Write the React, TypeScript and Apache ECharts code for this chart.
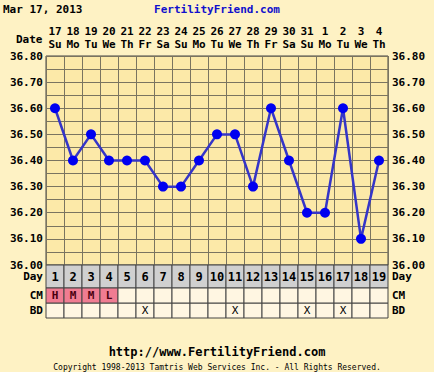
import React, { useEffect, useRef } from 'react';
import * as echarts from 'echarts';

const dates = ['17', '18', '19', '20', '21', '22', '23', '24', '25', '26', '27', '28', '29', '30', '31', '1', '2', '3', '4'];
const weekdays = ['Su', 'Mo', 'Tu', 'We', 'Th', 'Fr', 'Sa', 'Su', 'Mo', 'Tu', 'We', 'Th', 'Fr', 'Sa', 'Su', 'Mo', 'Tu', 'We', 'Th'];
const cycleDays = ['1', '2', '3', '4', '5', '6', '7', '8', '9', '10', '11', '12', '13', '14', '15', '16', '17', '18', '19'];
const temps = [36.6, 36.4, 36.5, 36.4, 36.4, 36.4, 36.3, 36.3, 36.4, 36.5, 36.5, 36.3, 36.6, 36.4, 36.2, 36.2, 36.6, 36.1, 36.4];
const cervicalMucus = ['H', 'M', 'M', 'L', '', '', '', '', '', '', '', '', '', '', '', '', '', '', ''];
const intercourse = ['', '', '', '', '', 'X', '', '', '', '', 'X', '', '', '', 'X', '', 'X', '', ''];
const tableRows = ['BD', 'CM'];
const tempMin = 36.0;
const tempMax = 36.8;
const tempStep = 0.05;

const FONT = 'DejaVu Sans Mono';
const BG = '#FEF2C4';
const PLOT_BG = '#FCE9A8';
const CELL_BG = '#FFF6E2';
const GRID_LINE = '#7A7460';
const BORDER = '#444444';

const labelStyle = { fontFamily: FONT, fontWeight: 'bold' as const, fontSize: 11, color: '#000' };

export default function App() {
  const ref = useRef<HTMLDivElement>(null);
  useEffect(() => {
    if (!ref.current) return;
    const chart = echarts.init(ref.current, undefined, { renderer: 'svg' });
    const tempLabel = (v: number) => {
      const r = Math.round(v * 100);
      return r % 10 === 0 ? (r / 100).toFixed(2) : '';
    };
    const dayCells = cycleDays.map((d, i) => [i, 0, d]);
    const tableCells: any[] = [];
    intercourse.forEach((v, i) => tableCells.push([i, 0, v]));
    cervicalMucus.forEach((v, i) => tableCells.push([i, 1, v]));

    const option: any = {
      animation: false,
      backgroundColor: BG,
      textStyle: { fontFamily: FONT },
      title: [
        { text: 'Mar 17, 2013', left: 3, top: 4, padding: 0, textStyle: { ...labelStyle, fontSize: 11 } },
        { text: 'FertilityFriend.com', left: 'center', top: 4, padding: 0, textStyle: { ...labelStyle, color: '#1010CC', fontSize: 11 } },
        { text: 'http://www.FertilityFriend.com', left: 'center', top: 346, padding: 0, textStyle: { ...labelStyle, fontSize: 12 } },
        { text: 'Copyright 1998-2013 Tamtris Web Services Inc. - All Rights Reserved.', left: 'center', top: 363, padding: 0, textStyle: { ...labelStyle, fontSize: 8, fontWeight: 'normal', lineHeight: 9 } },
      ],
      graphic: [
        { type: 'text', left: 16, top: 34, style: { text: 'Date', font: `bold 11px "${FONT}"`, fill: '#000' } },
      ],
      grid: [
        { left: 46, top: 56, width: 342, height: 209, show: true, backgroundColor: PLOT_BG, borderColor: BORDER, borderWidth: 1 },
        { left: 46, top: 265, width: 342, height: 23, show: false },
        { left: 46, top: 288, width: 342, height: 30, show: false },
      ],
      xAxis: [
        {
          gridIndex: 0, type: 'category', data: dates, position: 'top', boundaryGap: true,
          axisLine: { show: false }, axisTick: { show: false },
          axisLabel: { ...labelStyle, margin: 5, lineHeight: 13, interval: 0, formatter: (v: string, i: number) => `${v}\n${weekdays[i]}` },
          splitLine: { show: true, interval: 0, lineStyle: { color: GRID_LINE, width: 1 } },
        },
        { gridIndex: 1, type: 'category', data: cycleDays, show: false },
        { gridIndex: 2, type: 'category', data: cycleDays, show: false },
      ],
      yAxis: [
        {
          gridIndex: 0, type: 'value', min: tempMin, max: tempMax, interval: tempStep, position: 'left',
          axisLine: { show: false }, axisTick: { show: false },
          axisLabel: { ...labelStyle, margin: 3, formatter: tempLabel, showMinLabel: true, showMaxLabel: true },
          splitLine: { show: true, lineStyle: { color: GRID_LINE, width: 1 } },
        },
        {
          gridIndex: 0, type: 'value', min: tempMin, max: tempMax, interval: tempStep, position: 'right',
          axisLine: { show: false }, axisTick: { show: false },
          axisLabel: { ...labelStyle, margin: 4, formatter: tempLabel, showMinLabel: true, showMaxLabel: true },
          splitLine: { show: false },
        },
        {
          gridIndex: 1, type: 'category', data: ['Day'], position: 'left',
          axisLine: { show: false }, axisTick: { show: false }, axisLabel: { ...labelStyle, margin: 3 },
        },
        {
          gridIndex: 1, type: 'category', data: ['Day'], position: 'right',
          axisLine: { show: false }, axisTick: { show: false }, axisLabel: { ...labelStyle, margin: 4 },
        },
        {
          gridIndex: 2, type: 'category', data: tableRows, position: 'left',
          axisLine: { show: false }, axisTick: { show: false }, axisLabel: { ...labelStyle, margin: 3 },
        },
        {
          gridIndex: 2, type: 'category', data: tableRows, position: 'right',
          axisLine: { show: false }, axisTick: { show: false }, axisLabel: { ...labelStyle, margin: 4 },
        },
      ],
      series: [
        {
          type: 'line', xAxisIndex: 0, yAxisIndex: 0, data: temps,
          symbol: 'circle', symbolSize: 10,
          lineStyle: { color: '#3535C8', width: 2.5 },
          itemStyle: { color: '#0000F0' },
          z: 5,
        },
        {
          type: 'custom', xAxisIndex: 1, yAxisIndex: 2, data: dayCells,
          renderItem: (params: any, api: any) => {
            const c = api.coord([api.value(0), api.value(1)]);
            const s = api.size([1, 1]);
            return {
              type: 'group',
              children: [
                { type: 'rect', shape: { x: c[0] - s[0] / 2, y: c[1] - s[1] / 2, width: s[0], height: s[1] }, style: { fill: '#D0D0D0', stroke: BORDER, lineWidth: 1 } },
                { type: 'text', x: c[0], y: c[1], style: { text: String(dayCells[params.dataIndex][2]), align: 'center', verticalAlign: 'middle', font: `bold 12px "${FONT}"`, fill: '#000' } },
              ],
            };
          },
        },
        {
          type: 'custom', xAxisIndex: 2, yAxisIndex: 4, data: tableCells,
          renderItem: (params: any, api: any) => {
            const c = api.coord([api.value(0), api.value(1)]);
            const s = api.size([1, 1]);
            const cell = tableCells[params.dataIndex];
            const isCM = cell[1] === 1;
            const fill = isCM && cell[2] ? '#F07C92' : CELL_BG;
            return {
              type: 'group',
              children: [
                { type: 'rect', shape: { x: c[0] - s[0] / 2, y: c[1] - s[1] / 2, width: s[0], height: s[1] }, style: { fill, stroke: BORDER, lineWidth: 1 } },
                { type: 'text', x: c[0], y: c[1], style: { text: String(cell[2]), align: 'center', verticalAlign: 'middle', font: `${isCM ? 'bold ' : ''}11px "${FONT}"`, fill: isCM ? '#4A0010' : '#000' } },
              ],
            };
          },
        },
      ],
    };
    chart.setOption(option);
    return () => chart.dispose();
  }, []);
  return <div ref={ref} style={{ position: 'fixed', left: 0, top: 0, width: 434, height: 372 }} />;
}
